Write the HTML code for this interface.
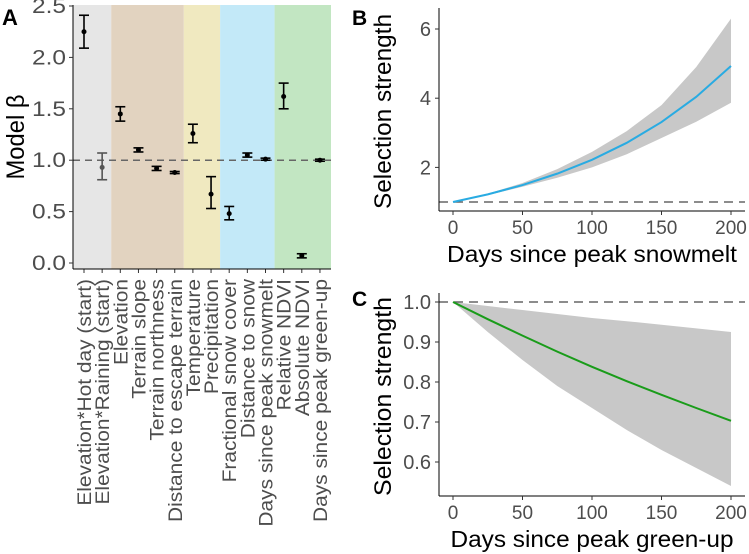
<!DOCTYPE html>
<html><head><meta charset="utf-8">
<style>
html,body{margin:0;padding:0;background:#fff;}
svg{display:block;font-family:"Liberation Sans",Arial,sans-serif;}
</style></head>
<body>
<svg id="fig" width="749" height="554" viewBox="0 0 749 554" xmlns="http://www.w3.org/2000/svg">
<text x="2" y="25" font-size="22" font-weight="bold">A</text>
<text x="352" y="25" font-size="21" font-weight="bold">B</text>
<text x="352" y="306" font-size="21" font-weight="bold">C</text>
<g id="pa"></g>
<g id="pb"></g>
<g id="pc"></g>
</svg>
<script>
// Panel A data
const catsA = ["Elevation*Hot day (start)","Elevation*Raining (start)","Elevation","Terrain slope","Terrain northness","Distance to escape terrain","Temperature","Precipitation","Fractional snow cover","Distance to snow","Days since peak snowmelt","Relative NDVI","Absolute NDVI","Days since peak green-up"];
const betaA = [2.25,0.93,1.45,1.10,0.92,0.88,1.26,0.67,0.48,1.05,1.01,1.62,0.07,1.00];
const lowA  = [2.09,0.81,1.38,1.08,0.90,0.87,1.17,0.53,0.42,1.03,1.00,1.50,0.05,0.99];
const highA = [2.41,1.07,1.52,1.12,0.94,0.89,1.35,0.84,0.55,1.07,1.02,1.75,0.09,1.01];
const groupA = [0,0,1,1,1,1,2,2,3,3,3,4,4,4];
const groupColors = ["#e6e6e6","#e2d3c0","#f0e9c0","#c3e9f8","#c2e6c2"];
const ticksA = [0,0.5,1,1.5,2,2.5];
const tickLabA = ["0.0","0.5","1.0","1.5","2.0","2.5"];
// Panel B data
const daysB = [0,25,50,75,100,125,150,175,200];
const meanB = [1,1.22,1.49,1.82,2.22,2.71,3.31,4.04,4.93];
const upB   = [1,1.24,1.55,1.95,2.45,3.05,3.8,4.9,6.3];
const loB   = [1,1.2,1.44,1.7,2.0,2.38,2.85,3.32,3.87];
const ticksBy = [2,4,6];
// Panel C data
const daysC = [0,25,50,75,100,125,150,175,200];
const meanC = [1,0.957,0.916,0.876,0.838,0.802,0.768,0.735,0.703];
const upC   = [1,0.99,0.98,0.97,0.96,0.952,0.943,0.934,0.925];
const loC   = [1,0.925,0.855,0.79,0.735,0.68,0.63,0.585,0.54];
const ticksCy = [0.6,0.7,0.8,0.9,1.0];
const tickLabCy = ["0.6","0.7","0.8","0.9","1.0"];
const ticksX = [0,50,100,150,200];

const NS="http://www.w3.org/2000/svg";
function mk(parent,tag,attrs,text){const e=document.createElementNS(NS,tag);for(const k in attrs)e.setAttribute(k,attrs[k]);if(text!==undefined)e.textContent=text;parent.appendChild(e);return e;}
function stretch(t,len){t.setAttribute('textLength',len);t.setAttribute('lengthAdjust','spacingAndGlyphs');}
const TC="#4d4d4d";

// ---- Panel A ----
(function(){
const g=document.getElementById('pa');
const L=73,R=331,T=5,B=269;
const xA=i=>84+i*18.15;
const yA=v=>263-v*102.8;
let start=0;
for(let i=1;i<=catsA.length;i++){
  if(i===catsA.length||groupA[i]!==groupA[start]){
    const x0=start===0?L:(xA(start-1)+xA(start))/2;
    const x1=i===catsA.length?R:(xA(i-1)+xA(i))/2;
    const r=mk(g,'rect',{x:x0,y:T,width:x1-x0,height:B-T,fill:groupColors[groupA[start]]});
    
    
    start=i;
  }
}
const ref=mk(g,'line',{x1:L,x2:R,y1:yA(1),y2:yA(1),stroke:'#666','stroke-width':1.5,'stroke-dasharray':'7,5'});


const labels=[];
catsA.forEach((c,i)=>{
  const x=xA(i);const col=i===1?'#555':'#000';
  const eg=mk(g,'g',{});
  
  
  mk(eg,'line',{x1:x,x2:x,y1:yA(lowA[i]),y2:yA(highA[i]),stroke:col,'stroke-width':1.6});
  mk(eg,'line',{x1:x-5,x2:x+5,y1:yA(lowA[i]),y2:yA(lowA[i]),stroke:col,'stroke-width':1.6});
  mk(eg,'line',{x1:x-5,x2:x+5,y1:yA(highA[i]),y2:yA(highA[i]),stroke:col,'stroke-width':1.6});
  mk(eg,'circle',{cx:x,cy:yA(betaA[i]),r:2.5,fill:col});
  mk(g,'line',{x1:x,x2:x,y1:B,y2:B+4,stroke:'#333'});
  const t=mk(g,'text',{x:0,y:0,'font-size':19,fill:TC,'text-anchor':'end',transform:`translate(${x+7},${B+10}) rotate(-90)`},c);
  
  
  labels.push(t);
});
const f=243/labels[5].getComputedTextLength();
labels.forEach(t=>stretch(t,t.getComputedTextLength()*f));
mk(g,'line',{x1:L,x2:L,y1:T,y2:B,stroke:'#000','stroke-width':1});
mk(g,'line',{x1:L,x2:R,y1:B,y2:B,stroke:'#000','stroke-width':1});
ticksA.forEach((v,i)=>{
  mk(g,'line',{x1:L-4,x2:L,y1:yA(v),y2:yA(v),stroke:'#333'});
  const t=mk(g,'text',{x:L-7,y:yA(v)+7,'font-size':21,fill:TC,'text-anchor':'end'},tickLabA[i]);
  stretch(t,34);
  
  
});
const yt=mk(g,'text',{x:0,y:0,'font-size':25,fill:'#000','text-anchor':'middle',transform:'translate(24,137) rotate(-90)'},'Model β');
stretch(yt,85);


})();

// ---- line panels ----
function linePanel(id,days,mean,up,lo,T,B,yfun,yt,ytl,color,refv,xtitle,xtlen,ytlen){
  const g=document.getElementById(id);
  const L=439,R=745;
  const x=d=>453+d*(278/200);
  let p='';
  days.forEach((d,i)=>p+=(i?'L':'M')+x(d)+','+yfun(up[i]));
  for(let i=days.length-1;i>=0;i--)p+='L'+x(days[i])+','+yfun(lo[i]);
  const band=mk(g,'path',{d:p+'Z',fill:'#c8c8c8'});
  
  
  const rl=mk(g,'line',{x1:L,x2:R,y1:yfun(refv),y2:yfun(refv),stroke:'#666','stroke-width':1.5,'stroke-dasharray':'9,6'});
  
  
  let m='';
  days.forEach((d,i)=>m+=(i?'L':'M')+x(d)+','+yfun(mean[i]));
  const ln=mk(g,'path',{d:m,fill:'none',stroke:color,'stroke-width':2});
  
  
  mk(g,'line',{x1:L,x2:L,y1:T,y2:B,stroke:'#000'});
  mk(g,'line',{x1:L,x2:R,y1:B,y2:B,stroke:'#000'});
  yt.forEach((v,i)=>{
    mk(g,'line',{x1:L-4,x2:L,y1:yfun(v),y2:yfun(v),stroke:'#333'});
    const t=mk(g,'text',{x:L-8,y:yfun(v)+7,'font-size':20,fill:TC,'text-anchor':'end'},ytl[i]);
    
    
  });
  ticksX.forEach(v=>{
    mk(g,'line',{x1:x(v),x2:x(v),y1:B,y2:B+4,stroke:'#333'});
    const t=mk(g,'text',{x:x(v),y:B+23,'font-size':19,fill:TC,'text-anchor':'middle'},String(v));
    
    
  });
  const xt=mk(g,'text',{x:592,y:B+51,'font-size':23,fill:'#000','text-anchor':'middle'},xtitle);
  stretch(xt,xtlen);
  
  
  const yt2=mk(g,'text',{x:0,y:0,'font-size':24,fill:'#000','text-anchor':'middle',transform:`translate(391,${(T+B)/2+2}) rotate(-90)`},'Selection strength');
  stretch(yt2,ytlen);
  
  
}
linePanel('pb',daysB,meanB,upB,loB,8,211,v=>202-(v-1)*34.6,ticksBy,ticksBy.map(String),'#29abe2',1,'Days since peak snowmelt',290,195);
linePanel('pc',daysC,meanC,upC,loC,293,496,v=>302+(1-v)*400,ticksCy,tickLabCy,'#1a9c1a',1,'Days since peak green-up',283,199);
</script>
</body></html>
